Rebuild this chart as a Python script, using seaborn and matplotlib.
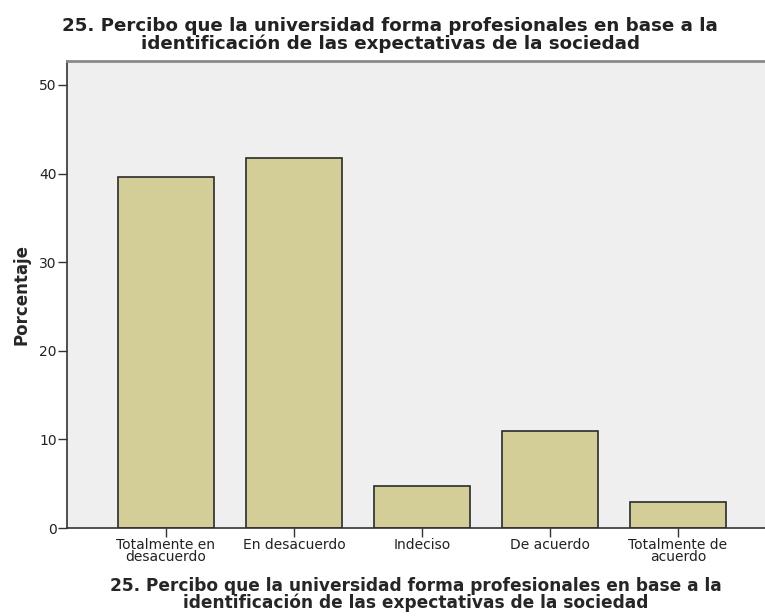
import pandas as pd
import matplotlib
matplotlib.use("Agg")
import matplotlib.pyplot as plt
import seaborn as sns

# values (percent of respondents)
categorias = ["Totalmente en\ndesacuerdo", "En desacuerdo", "Indeciso",
              "De acuerdo", "Totalmente de\nacuerdo"]
porcentajes = [39.6, 41.8, 4.7, 11.0, 2.9]
y_ticks = [0, 10, 20, 30, 40, 50]

titulo = ("25. Percibo que la universidad forma profesionales en base a la\n"
          "identificación de las expectativas de la sociedad")

df = pd.DataFrame({"categoria": categorias, "porcentaje": porcentajes})

sns.set_style("white")
plt.rcParams["font.family"] = ["DejaVu Sans"]
plt.rcParams["text.color"] = "#222222"

fig = plt.figure(figsize=(7.65, 6.16), dpi=100)
ax = fig.add_axes([67 / 765, 1 - 528 / 616, 1 - 67 / 765, (528 - 61) / 616])
ax.set_facecolor("#efefef")

sns.barplot(data=df, x="categoria", y="porcentaje", color="#d3ce97",
            saturation=1, width=0.75, edgecolor="#2b2b2b", linewidth=1.2, ax=ax)

ax.set_xlim(-0.773, 4.68)
ax.set_ylim(0, 52.7)
ax.set_yticks(y_ticks)
ax.tick_params(axis="both", which="both", direction="out", length=6.5, width=1,
               color="#333333", labelsize=10, labelcolor="#222222", pad=1)
ax.tick_params(axis="y", left=True)
ax.tick_params(axis="x", bottom=True)

ax.spines["left"].set_color("#333333")
ax.spines["bottom"].set_color("#333333")
ax.spines["left"].set_linewidth(1.2)
ax.spines["bottom"].set_linewidth(1.2)
ax.spines["right"].set_visible(False)
ax.spines["top"].set_color("#8a8a8a")
ax.spines["top"].set_linewidth(2)

ax.set_ylabel("Porcentaje", fontsize=12, fontweight="bold")
ax.yaxis.set_label_coords(-0.053, 0.5)
ax.set_xlabel(titulo, fontsize=12.25, fontweight="bold", linespacing=0.89)
ax.xaxis.set_label_coords(0.5, -0.105)

# multi-line text with va="baseline" sits on the last line's baseline
fig.text(0.51, 1 - 49 / 616, titulo, ha="center", va="baseline",
         fontsize=13.15, fontweight="bold", linespacing=0.97)

for lbl in ax.get_xticklabels():
    lbl.set_linespacing(0.8)

fig.savefig("out.png", dpi=100)
